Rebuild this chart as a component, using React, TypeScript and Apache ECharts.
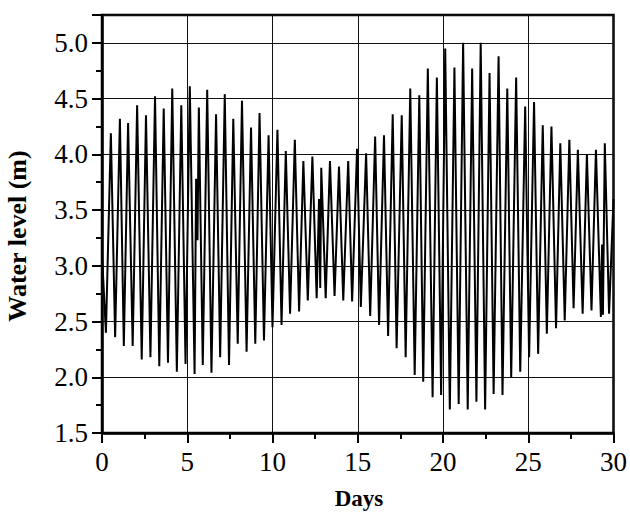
import React, { useEffect, useRef } from "react";
import * as echarts from "echarts";

// High water (days, metres)
const highDays = [0.52, 1.05, 1.53, 2.06, 2.58, 3.11, 3.62, 4.12, 4.65, 5.15, 5.68, 6.17, 6.69, 7.2, 7.7, 8.21, 8.74, 9.24, 9.77, 10.29, 10.78, 11.31, 11.81, 12.34, 12.86, 13.37, 13.9, 14.44, 14.96, 15.49, 16.02, 16.54, 17.05, 17.58, 18.08, 18.61, 19.11, 19.64, 20.13, 20.67, 21.18, 21.71, 22.21, 22.73, 23.26, 23.77, 24.29, 24.82, 25.34, 25.85, 26.36, 26.88, 27.41, 27.91, 28.44, 28.97, 29.49];
const highLevels = [4.19, 4.32, 4.28, 4.44, 4.35, 4.52, 4.41, 4.59, 4.44, 4.61, 4.42, 4.58, 4.36, 4.54, 4.32, 4.48, 4.24, 4.37, 4.17, 4.22, 4.03, 4.13, 3.94, 3.98, 3.88, 3.94, 3.89, 3.94, 4.05, 4.01, 4.16, 4.17, 4.36, 4.35, 4.59, 4.53, 4.77, 4.69, 4.95, 4.78, 5.0, 4.77, 5.0, 4.73, 4.88, 4.59, 4.69, 4.43, 4.47, 4.26, 4.25, 4.1, 4.13, 4.04, 4.0, 4.04, 4.1];

// Low water (days, metres)
const lowDays = [0.23, 0.77, 1.28, 1.8, 2.33, 2.84, 3.36, 3.87, 4.39, 4.9, 5.43, 5.91, 6.42, 6.93, 7.45, 7.96, 8.48, 8.99, 9.5, 10.0, 10.53, 11.03, 11.56, 12.07, 12.59, 13.12, 13.64, 14.15, 14.67, 15.18, 15.73, 16.25, 16.78, 17.28, 17.81, 18.34, 18.84, 19.39, 19.89, 20.4, 20.92, 21.45, 21.96, 22.47, 22.97, 23.49, 24.0, 24.53, 25.05, 25.58, 26.09, 26.63, 27.14, 27.66, 28.19, 28.71, 29.26, 29.74];
const lowLevels = [2.4, 2.36, 2.28, 2.28, 2.16, 2.18, 2.1, 2.13, 2.05, 2.12, 2.03, 2.11, 2.04, 2.18, 2.11, 2.3, 2.23, 2.3, 2.33, 2.45, 2.47, 2.57, 2.59, 2.69, 2.71, 2.71, 2.73, 2.69, 2.68, 2.63, 2.55, 2.47, 2.37, 2.26, 2.18, 2.02, 1.96, 1.82, 1.84, 1.71, 1.76, 1.71, 1.78, 1.71, 1.85, 1.84, 2.0, 2.05, 2.18, 2.21, 2.39, 2.44, 2.51, 2.62, 2.57, 2.6, 2.54, 2.57];

// Other recorded points (start, end and short irregular readings)
const otherDays = [0, 5.52, 5.6, 12.73, 12.8, 29.33, 29.38, 30];
const otherLevels = [3.1, 3.78, 3.23, 3.6, 2.8, 3.19, 2.56, 3.6];

const xTicks = [0, 5, 10, 15, 20, 25, 30];
const yTicks = [1.5, 2.0, 2.5, 3.0, 3.5, 4.0, 4.5, 5.0];

const SERIF = "'Liberation Serif', 'Times New Roman', serif";

export default function App() {
  const ref = useRef<HTMLDivElement>(null);
  useEffect(() => {
    if (!ref.current) return;
    const chart = echarts.init(ref.current, undefined, { renderer: "svg" });
    const pts: [number, number][] = [];
    highDays.forEach((d, i) => pts.push([d, highLevels[i]]));
    lowDays.forEach((d, i) => pts.push([d, lowLevels[i]]));
    otherDays.forEach((d, i) => pts.push([d, otherLevels[i]]));
    pts.sort((a, b) => a[0] - b[0]);

    chart.setOption({
      animation: false,
      grid: {
        left: 102,
        right: 14,
        top: 15,
        bottom: 81,
        show: true,
        borderColor: "#000",
        borderWidth: 2.5,
        backgroundColor: "#fff",
      },
      xAxis: {
        type: "value",
        min: xTicks[0],
        max: xTicks[xTicks.length - 1],
        interval: 5,
        axisLine: { show: true, onZero: false, lineStyle: { color: "#000", width: 2.5 } },
        axisTick: { show: true, inside: false, length: 10, lineStyle: { color: "#000", width: 2 } },
        minorTick: { show: true, splitNumber: 2, length: 6, lineStyle: { color: "#000", width: 2 } },
        splitLine: { show: true, lineStyle: { color: "#111", width: 1 } },
        axisLabel: { color: "#000", fontFamily: SERIF, fontSize: 27, margin: 15 },
      },
      yAxis: [
        {
          type: "value",
          min: yTicks[0],
          max: 5.25,
          interval: 0.5,
          axisLine: { show: true, onZero: false, lineStyle: { color: "#000", width: 2.5 } },
          axisTick: { show: true, inside: false, length: 10, lineStyle: { color: "#000", width: 2 } },
          minorTick: { show: false },
          splitLine: { show: true, lineStyle: { color: "#111", width: 1 } },
          axisLabel: {
            color: "#000",
            fontFamily: SERIF,
            fontSize: 27,
            margin: 14,
            formatter: (v: number) => (yTicks.some((t) => Math.abs(t - v) < 1e-6) ? v.toFixed(1) : ""),
          },
        },
        {
          // minor ticks every 0.25 m
          type: "value",
          position: "left",
          min: yTicks[0],
          max: 5.25,
          interval: 0.25,
          axisLine: { show: false, onZero: false },
          axisTick: { show: true, inside: false, length: 6, lineStyle: { color: "#000", width: 2 } },
          splitLine: { show: false },
          axisLabel: { show: false },
        },
      ],
      graphic: [
        {
          type: "text",
          x: 17,
          y: 236,
          rotation: Math.PI / 2,
          style: {
            text: "Water level (m)",
            fontFamily: SERIF,
            fontWeight: "bold",
            fontSize: 26,
            fill: "#000",
            textAlign: "center",
            textVerticalAlign: "middle",
          },
        },
        {
          type: "text",
          x: 359,
          y: 498,
          style: {
            text: "Days",
            fontFamily: SERIF,
            fontWeight: "bold",
            fontSize: 23,
            fill: "#000",
            textAlign: "center",
            textVerticalAlign: "middle",
          },
        },
      ],
      series: [
        {
          type: "line",
          data: pts,
          showSymbol: false,
          symbol: "none",
          lineStyle: { color: "#000", width: 2, join: "miter" },
          z: 3,
        },
      ],
    });
    return () => chart.dispose();
  }, []);
  return (
    <div
      ref={ref}
      style={{ position: "fixed", left: 0, top: 0, width: 630, height: 514, background: "#fff" }}
    />
  );
}
